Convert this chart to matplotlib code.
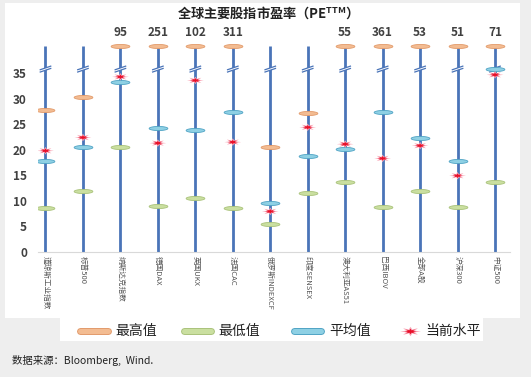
import matplotlib
matplotlib.use("Agg")
import matplotlib.pyplot as plt
import numpy as np
from matplotlib.path import Path
from matplotlib.patches import Rectangle, Polygon
from matplotlib.lines import Line2D

plt.rcParams['font.family'] = ['Noto Sans CJK SC', 'DejaVu Sans']

categories = ['道琼斯工业指数', '标普500', '纳斯达克指数', '德国DAX', '英国UKX', '法国CAC',
              '俄罗斯INDEXCF', '印度SENSEX', '澳大利亚AS51', '巴西IBOV', '全部A股', '沪深300', '中证500']
max_vals = [27.8, 30.3, 95, 251, 102, 311, 20.5, 27.3, 55, 361, 53, 51, 71]
min_vals = [8.5, 12.0, 20.5, 9.0, 10.5, 8.6, 5.4, 11.5, 13.7, 8.7, 11.9, 8.7, 13.7]
avg_vals = [17.7, 20.5, 33.3, 24.3, 23.9, 27.5, 9.5, 18.8, 20.1, 27.5, 22.3, 17.7, 35.8]
cur_vals = [19.8, 22.4, 34.3, 21.3, 33.6, 21.5, 7.9, 24.4, 21.1, 18.3, 20.8, 14.9, 34.7]
y_ticks = [0, 5, 10, 15, 20, 25, 30, 35]

BREAK = 35.6   # axis break position
CAP = 40.3     # where values above the break are drawn
TOP = 40.3

def disp(v):
    return v if v <= 38 else CAP

W, H = 531, 377
fig = plt.figure(figsize=(W / 100, H / 100), dpi=100)
fig.patch.set_facecolor('#EEEEEE')

# white panels
fig.patches.append(Rectangle((5 / W, 1 - 318 / H), (520 - 5) / W, (318 - 3) / H,
                             transform=fig.transFigure, facecolor='white', edgecolor='none', zorder=-10))
fig.patches.append(Rectangle((60 / W, 1 - 341 / H), (483 - 60) / W, (341 - 318) / H,
                             transform=fig.transFigure, facecolor='white', edgecolor='none', zorder=-10))

ax = fig.add_axes([38 / W, 1 - 251.7 / H, (510 - 38) / W, (251.7 - 42.7) / H])
ax.set_zorder(5)
ax.set_facecolor('none')
ax.set_xlim(-0.2, 12.4)
ax.set_ylim(0, 41)

# markers
t = np.linspace(0, 2 * np.pi, 40)
ell = Path(np.column_stack([np.cos(t), 0.22 * np.sin(t)]), closed=True)
ang = np.linspace(0, 2 * np.pi, 17)[:-1]
r = np.where(np.arange(16) % 2 == 0, 1.0, 0.45)
star = Path(np.column_stack([r * np.cos(ang), 0.45 * r * np.sin(ang)]))
star = Path(np.vstack([star.vertices, star.vertices[:1]]), closed=True)

x = np.arange(len(categories))
line_col = '#4A74B8'
for i in x:
    ax.plot([i, i], [0, TOP], color=line_col, lw=2.0, zorder=2, solid_capstyle='butt')
    # axis break
    dx, dy, gap = 0.14, 0.35, 0.45
    ax.add_patch(Polygon([[i - dx, BREAK - dy], [i + dx, BREAK + dy],
                          [i + dx, BREAK + dy + gap], [i - dx, BREAK - dy + gap]],
                         closed=True, facecolor='white', edgecolor='none', zorder=3))
    for off in (0, gap):
        ax.plot([i - dx, i + dx], [BREAK - dy + off, BREAK + dy + off],
                color=line_col, lw=0.9, zorder=4)

ms = 13.5 ** 2
ax.scatter(x, [disp(v) for v in max_vals], marker=ell, s=ms,
           facecolor='#F3BC92', edgecolor='#E29A6A', linewidth=0.6, zorder=5)
ax.scatter(x, [disp(v) for v in min_vals], marker=ell, s=ms,
           facecolor='#CADFA0', edgecolor='#A9C27A', linewidth=0.6, zorder=5)
ax.scatter(x, [disp(v) for v in avg_vals], marker=ell, s=ms,
           facecolor='#8ED0E4', edgecolor='#4FA3C4', linewidth=0.6, zorder=5)
ax.scatter(x, cur_vals, marker=star, s=12 ** 2,
           facecolor='#F9A8B8', edgecolor='none', zorder=6)
ax.scatter(x, cur_vals, marker=star, s=7.5 ** 2,
           facecolor='#E8102A', edgecolor='none', zorder=7)

for i, v in enumerate(max_vals):
    if v > 38:
        ax.annotate(f'{v:g}', (i, CAP), xytext=(0, 5), textcoords='offset points',
                    ha='center', va='bottom', fontsize=8.5, fontweight='bold', color='#404040')

ax.set_yticks(y_ticks)
ax.set_yticklabels([str(v) for v in y_ticks], fontsize=8.5, fontweight='bold', color='#404040')
ax.set_xticks(x)
ax.set_xticklabels(categories, rotation=270, fontsize=5.5, color='#555555', va='top', ha='center')
ax.tick_params(axis='both', length=0, pad=3)
ax.tick_params(axis='y', pad=8)
for s in ['left', 'right', 'top']:
    ax.spines[s].set_visible(False)
ax.spines['bottom'].set_color('#D9D9D9')
ax.spines['bottom'].set_bounds(-0.2, 12.4)

fig.text(265 / W, 1 - 13 / H, '全球主要股指市盈率（PE$^{\\mathregular{TTM}}$）', ha='center', va='center',
         fontsize=9.5, fontweight='bold', color='#222222')

# legend
ly = 1 - 331 / H
def leg_bar(x0, x1, fc, ec):
    fig.add_artist(Line2D([x0 / W, x1 / W], [ly, ly], transform=fig.transFigure,
                          color=ec, lw=5.0, solid_capstyle='round'))
    fig.add_artist(Line2D([x0 / W, x1 / W], [ly, ly], transform=fig.transFigure,
                          color=fc, lw=3.6, solid_capstyle='round'))
leg_bar(80, 108, '#F3BC92', '#E29A6A')
fig.text(115 / W, ly, '最高值', fontsize=10, va='center', ha='left', color='#222222')
leg_bar(184, 211, '#CADFA0', '#A9C27A')
fig.text(218 / W, ly, '最低值', fontsize=10, va='center', ha='left', color='#222222')
leg_bar(294, 321, '#8ED0E4', '#4FA3C4')
fig.text(329 / W, ly, '平均值', fontsize=10, va='center', ha='left', color='#222222')
fig.add_artist(Line2D([410 / W], [ly], transform=fig.transFigure, marker=star, markersize=15,
                      markerfacecolor='#F9A8B8', markeredgecolor='none', linestyle='none'))
fig.add_artist(Line2D([410 / W], [ly], transform=fig.transFigure, marker=star, markersize=9,
                      markerfacecolor='#E8102A', markeredgecolor='none', linestyle='none'))
fig.text(425 / W, ly, '当前水平', fontsize=10, va='center', ha='left', color='#222222')

fig.text(12 / W, 1 - 360 / H, '数据来源：Bloomberg,  Wind.', fontsize=7.5, va='center', ha='left',
         color='#222222')

fig.savefig('out.png', dpi=100, facecolor=fig.get_facecolor())
